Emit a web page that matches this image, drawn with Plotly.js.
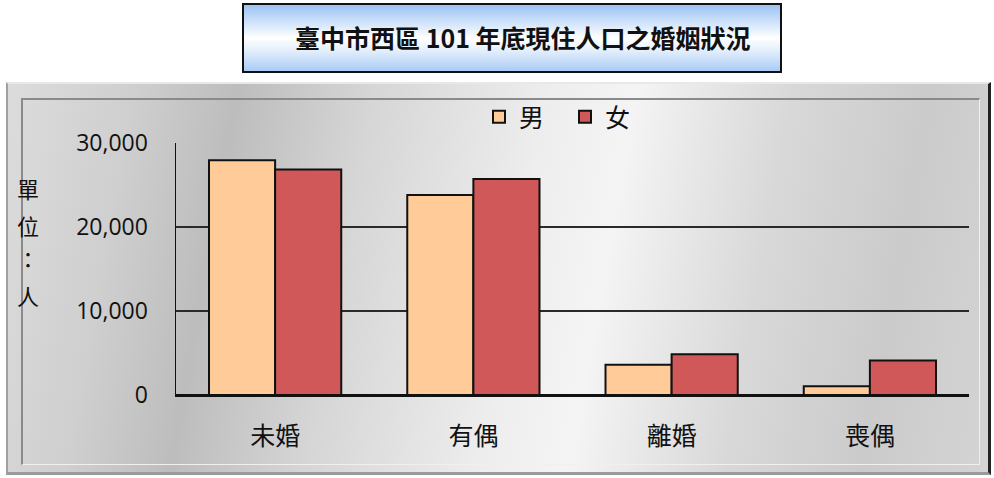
<!DOCTYPE html>
<html>
<head>
<meta charset="utf-8">
<script src="https://cdn.plot.ly/plotly-3.0.1.min.js"></script>
<style>
  html, body { margin: 0; padding: 0; background: #ffffff; }
  #wrap { position: relative; width: 994px; height: 478px; overflow: hidden; }
  #titlebox {
    position: absolute; left: 242px; top: 3px; width: 536px; height: 66px;
    border: 2px solid #111;
    background: linear-gradient(to bottom, #9cc3f3 0%, #d6e7fb 30%, #ffffff 50%, #e2eefc 70%, #a9cbf5 100%);
  }
  #frame {
    position: absolute; left: 6px; top: 82px; width: 980px; height: 388px;
    border-top: 2px solid #e8e8e8; border-left: 2px solid #a0a0a0;
    border-right: 3px solid #222; border-bottom: 3px solid #9a9a9a;
    background: linear-gradient(100deg, #dcdcdc 0%, #cfcfcf 12%, #bdbdbd 22%, #d6d6d6 35%, #eeeeee 52%, #f4f4f4 60%, #d8d8d8 75%, #cbcbcb 88%, #d4d4d4 100%);
  }
  #inner {
    position: absolute; left: 13px; top: 14px; right: 8px; bottom: 7px;
    border-top: 2px solid #8a8a8a; border-left: 2px solid #8a8a8a;
    border-right: 1px solid #f0f0f0; border-bottom: 1px solid #f0f0f0;
  }
  #chart { position: absolute; left: 0; top: 0; width: 994px; height: 478px; }
</style>
</head>
<body>
<div id="wrap">
  <div id="titlebox"></div>
  <div id="frame"><div id="inner"></div></div>
  <div id="chart"></div>
</div>
<script>
// ---- data ----
const categories = ["未婚", "有偶", "離婚", "喪偶"];
const seriesNames = ["男", "女"];
const maleValues = [27950, 23800, 3600, 1050];
const femaleValues = [26850, 25700, 4850, 4100];
const yTickValues = [0, 10000, 20000, 30000];
const titleText = "臺中市西區 101 年底現住人口之婚姻狀況";
const yTitleChars = ["單", "位", "：", "人"];

const FONT = "'Open Sans', 'Noto Sans CJK TC', sans-serif";
const CJK = "'Noto Sans CJK TC', 'Open Sans', sans-serif";

const W = 994, H = 478;
const M = { l: 176, r: 25, t: 143, b: 83 };
const PW = W - M.l - M.r, PH = H - M.t - M.b;
const px = v => (v - M.l) / PW;
const py = v => (H - M.b - v) / PH;

const traces = [
  {
    type: "bar", name: seriesNames[0], x: categories, y: maleValues,
    marker: { color: "#FFCC99", line: { color: "#111111", width: 2 } },
    hoverinfo: "x+y"
  },
  {
    type: "bar", name: seriesNames[1], x: categories, y: femaleValues,
    marker: { color: "#D05858", line: { color: "#111111", width: 2 } },
    hoverinfo: "x+y"
  }
];

const yTitleY = [188, 225, 258, 295];
const annotations = yTitleChars.map((c, i) => ({
  text: c, xref: "paper", yref: "paper", x: px(28), y: py(yTitleY[i]),
  xanchor: "center", yanchor: "middle", showarrow: false,
  font: { family: CJK, size: 22, color: "#111" }
}));
annotations.push({
  text: "<b>" + titleText + "</b>", xref: "paper", yref: "paper",
  x: px(523), y: py(37), xanchor: "center", yanchor: "middle", showarrow: false,
  font: { family: CJK, size: 25, color: "#111" }
});

const layout = {
  width: W, height: H,
  margin: { l: M.l, r: M.r, t: M.t, b: M.b, pad: 0 },
  paper_bgcolor: "rgba(0,0,0,0)",
  plot_bgcolor: "rgba(0,0,0,0)",
  barmode: "group",
  bargap: 0.333,
  bargroupgap: 0,
  showlegend: true,
  legend: {
    orientation: "h", x: px(479), y: py(94), xanchor: "left", yanchor: "top",
    bgcolor: "rgba(0,0,0,0)", font: { family: CJK, size: 25, color: "#111" },
    itemwidth: 30, entrywidth: 41, entrywidthmode: "pixels",
    traceorder: "normal"
  },
  xaxis: {
    type: "category", showgrid: false, showline: true, linecolor: "#111", linewidth: 1.5,
    ticks: "", tickfont: { family: CJK, size: 25, color: "#111" },
    ticklabelstandoff: 18, zeroline: false, fixedrange: true
  },
  yaxis: {
    range: [0, 30000], tickvals: yTickValues, tickformat: ",",
    showgrid: true, gridcolor: "#2a2a2a", gridwidth: 1.3,
    showline: true, linecolor: "#111", linewidth: 1.5,
    zeroline: true, zerolinecolor: "#111", zerolinewidth: 1.5,
    ticks: "", ticklabelstandoff: 22,
    tickfont: { family: FONT, size: 23, color: "#111" }, fixedrange: true
  },
  annotations: annotations
};

Plotly.newPlot("chart", traces, layout, { displayModeBar: false, staticPlot: true });
</script>
</body>
</html>
